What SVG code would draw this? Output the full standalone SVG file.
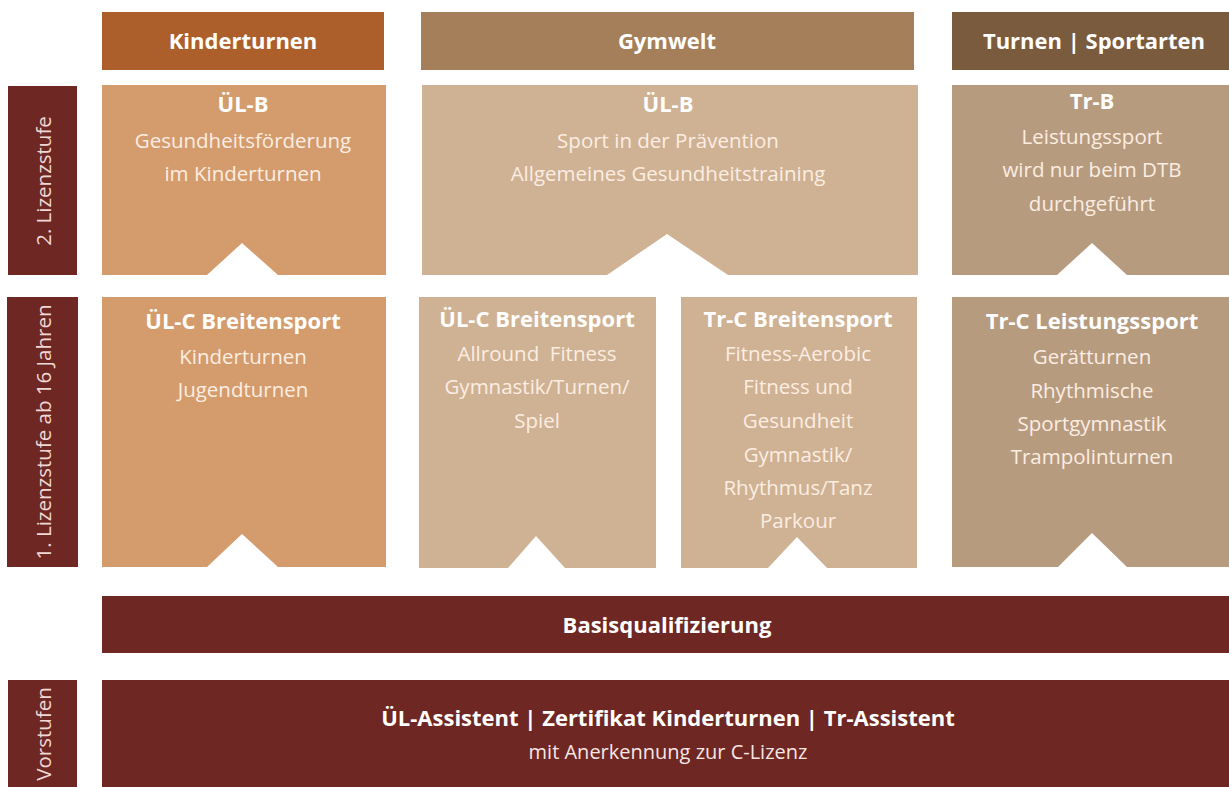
<svg xmlns="http://www.w3.org/2000/svg" width="1229" height="787" viewBox="0 0 1229 787">
<style>
.bg{fill:#ffffff}
.hk{fill:#AD5F2B}
.hg{fill:#A47F59}
.ht{fill:#7A5B3D}
.bk{fill:#D49C6D}
.bg2{fill:#CFB294}
.bt{fill:#B79B7F}
.dr{fill:#6E2723}
text{font-family:"Open Sans","Noto Sans","Liberation Sans",sans-serif;text-anchor:middle;white-space:pre}
.h{font-weight:bold;font-size:22px;fill:#ffffff}
.t{font-weight:bold;font-size:22px;fill:#ffffff}
.r{font-size:20.5px;fill:#FBEDE2}
.s{font-size:20px;fill:#F7E6E2}
.v{font-size:20.5px;fill:#EFD9D6}
</style>
<rect class="bg" x="0" y="0" width="1229" height="787"/>

<g id="header-kinderturnen">
<rect class="hk" x="102" y="12" width="282" height="58"/>
<text class="h" x="243" y="49">Kinderturnen</text>
</g>
<g id="header-gymwelt">
<rect class="hg" x="421" y="12" width="493" height="58"/>
<text class="h" x="667" y="49">Gymwelt</text>
</g>
<g id="header-turnen">
<rect class="ht" x="952" y="12" width="277" height="58"/>
<text class="h" x="1094" y="49">Turnen | Sportarten</text>
</g>

<g id="label-stufe2">
<rect class="dr" x="8" y="86" width="69" height="189"/>
<text class="v" transform="translate(51,181) rotate(-90)">2. Lizenzstufe</text>
</g>
<g id="label-stufe1">
<rect class="dr" x="7" y="297" width="71" height="270"/>
<text class="v" transform="translate(51,432) rotate(-90)">1. Lizenzstufe ab 16 Jahren</text>
</g>
<g id="label-vorstufen">
<rect class="dr" x="8" y="680" width="69" height="107"/>
<text class="v" transform="translate(51,734) rotate(-90)">Vorstufen</text>
</g>

<g id="ulb-kinderturnen">
<path class="bk" d="M102 85H386V275H278L242 243L207 275H102Z"/>
<text class="t" x="243" y="112">ÜL-B</text>
<text class="r" x="243" y="148">Gesundheitsförderung</text>
<text class="r" x="243" y="181">im Kinderturnen</text>
</g>
<g id="ulb-gymwelt">
<path class="bg2" d="M422 85H918V275H728L667 234L607 275H422Z"/>
<text class="t" x="668" y="112">ÜL-B</text>
<text class="r" x="668" y="148">Sport in der Prävention</text>
<text class="r" x="668" y="181">Allgemeines Gesundheitstraining</text>
</g>
<g id="trb">
<path class="bt" d="M952 85H1229V275H1127L1092 243L1057 275H952Z"/>
<text class="t" x="1092" y="109">Tr-B</text>
<text class="r" x="1092" y="144">Leistungssport</text>
<text class="r" x="1092" y="177">wird nur beim DTB</text>
<text class="r" x="1092" y="211">durchgeführt</text>
</g>

<g id="ulc-kinderturnen">
<path class="bk" d="M102 297H386V567H278L242 534L207 567H102Z"/>
<text class="t" x="243" y="329">ÜL-C Breitensport</text>
<text class="r" x="243" y="364">Kinderturnen</text>
<text class="r" x="243" y="397">Jugendturnen</text>
</g>
<g id="ulc-gymwelt">
<path class="bg2" d="M419 297H656V568H565L536 536L508 568H419Z"/>
<text class="t" x="537" y="327">ÜL-C Breitensport</text>
<text class="r" x="537" y="361">Allround  Fitness</text>
<text class="r" x="537" y="394">Gymnastik/Turnen/</text>
<text class="r" x="537" y="428">Spiel</text>
</g>
<g id="trc-breitensport">
<path class="bg2" d="M681 297H917V568H827L797 537L768 568H681Z"/>
<text class="t" x="798" y="327">Tr-C Breitensport</text>
<text class="r" x="798" y="361">Fitness-Aerobic</text>
<text class="r" x="798" y="394">Fitness und</text>
<text class="r" x="798" y="428">Gesundheit</text>
<text class="r" x="798" y="462">Gymnastik/</text>
<text class="r" x="798" y="495">Rhythmus/Tanz</text>
<text class="r" x="798" y="528">Parkour</text>
</g>
<g id="trc-leistungssport">
<path class="bt" d="M952 297H1229V567H1127L1092 533L1058 567H952Z"/>
<text class="t" x="1092" y="329">Tr-C Leistungssport</text>
<text class="r" x="1092" y="364">Gerätturnen</text>
<text class="r" x="1092" y="398">Rhythmische</text>
<text class="r" x="1092" y="431">Sportgymnastik</text>
<text class="r" x="1092" y="464">Trampolinturnen</text>
</g>

<g id="basisqualifizierung">
<rect class="dr" x="102" y="596" width="1127" height="57"/>
<text class="t" x="667" y="633">Basisqualifizierung</text>
</g>
<g id="vorstufen">
<rect class="dr" x="102" y="680" width="1127" height="107"/>
<text class="t" x="668" y="726">ÜL-Assistent | Zertifikat Kinderturnen | Tr-Assistent</text>
<text class="s" x="668" y="759">mit Anerkennung zur C-Lizenz</text>
</g>
</svg>
